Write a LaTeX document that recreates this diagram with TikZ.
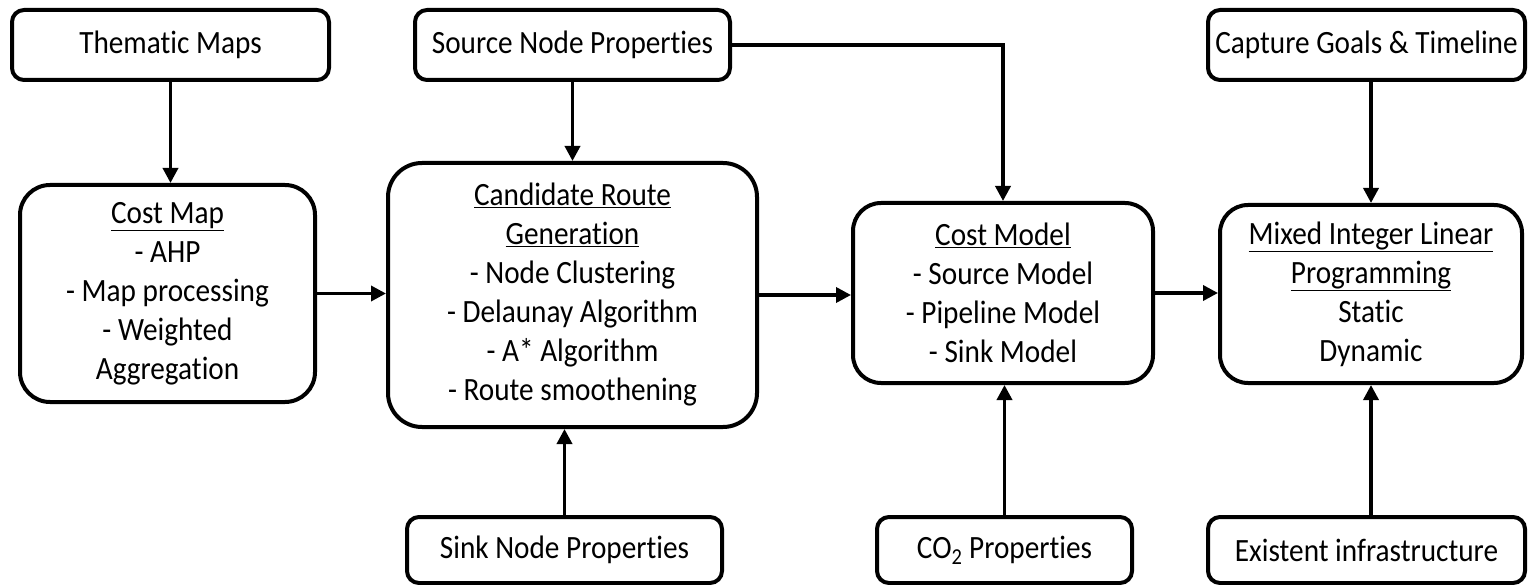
\documentclass[tikz,border=0pt]{standalone}
\usepackage{fontspec}
\setmainfont{Carlito}[FakeStretch=0.9, Ligatures={NoCommon}, RawFeature={-liga}]
\usetikzlibrary{arrows.meta}
\tikzset{
  box/.style={draw, line width=4pt, rectangle, rounded corners=12pt, inner sep=0pt, align=center, font=\fontsize{32.5}{39}\selectfont},
  bigbox/.style={box, rounded corners=30pt},
  conn/.style={line width=3.5pt, -{Triangle[length=15pt,width=15pt]}},
  plain/.style={line width=3.5pt}
}
\begin{document}
\begin{tikzpicture}[x=1pt,y=-1pt]
\useasboundingbox (0,0) rectangle (1528,585);
% top row
\node[box, minimum width=317pt, minimum height=70pt] (them) at (170.5,45) {Thematic Maps};
\node[box, minimum width=315pt, minimum height=70pt] (src) at (572.5,45) {Source Node Properties};
\node[box, minimum width=317pt, minimum height=70pt] (cap) at (1366.5,45) {Capture Goals \& Timeline};
% middle row
\node[bigbox, minimum width=295pt, minimum height=217pt] (cmap) at (167.5,293.5)
  {\underline{Cost Map}\\- AHP\\- Map processing\\- Weighted\\Aggregation};
\node[bigbox, rounded corners=34pt, minimum width=369pt, minimum height=264pt] (cand) at (572.5,295)
  {\underline{Candidate Route}\\\underline{Generation}\\- Node Clustering\\- Delaunay Algorithm\\- A* Algorithm\\- Route smoothening};
\node[bigbox, rounded corners=28pt, minimum width=300pt, minimum height=180pt] (cm) at (1003,293)
  {\underline{Cost Model}\\- Source Model\\- Pipeline Model\\- Sink Model};
\node[bigbox, rounded corners=28pt, minimum width=302pt, minimum height=178pt] (milp) at (1371,294)
  {\underline{Mixed Integer Linear}\\\underline{Programming}\\Static\\Dynamic};
% bottom row
\node[box, minimum width=315pt, minimum height=66pt] (sink) at (564.5,550) {Sink Node Properties};
\node[box, minimum width=255pt, minimum height=66pt] (co2) at (1004.5,550) {CO\textsubscript{2} Properties};
\node[box, minimum width=317pt, minimum height=66pt] (exist) at (1366.5,550) {Existent infrastructure};
% connectors
\draw[conn] (them.south) -- (them.south |- cmap.north);
\draw[conn] (src.south) -- (cand.north);
\draw[conn] (sink.north) -- (sink.north |- cand.south);
\draw[conn] (src.east) -| (cm.north);
\draw[conn] (milp.north |- cap.south) -- (milp.north);
\draw[conn] (co2.north) -- (co2.north |- cm.south);
\draw[conn] (milp.south |- exist.north) -- (milp.south);
\draw[conn] (cmap.east) -- (cmap.east -| cand.west);
\draw[conn] (cand.east) -- (cand.east -| cm.west);
\draw[conn] (cm.east) -- (cm.east -| milp.west);
\end{tikzpicture}
\end{document}
